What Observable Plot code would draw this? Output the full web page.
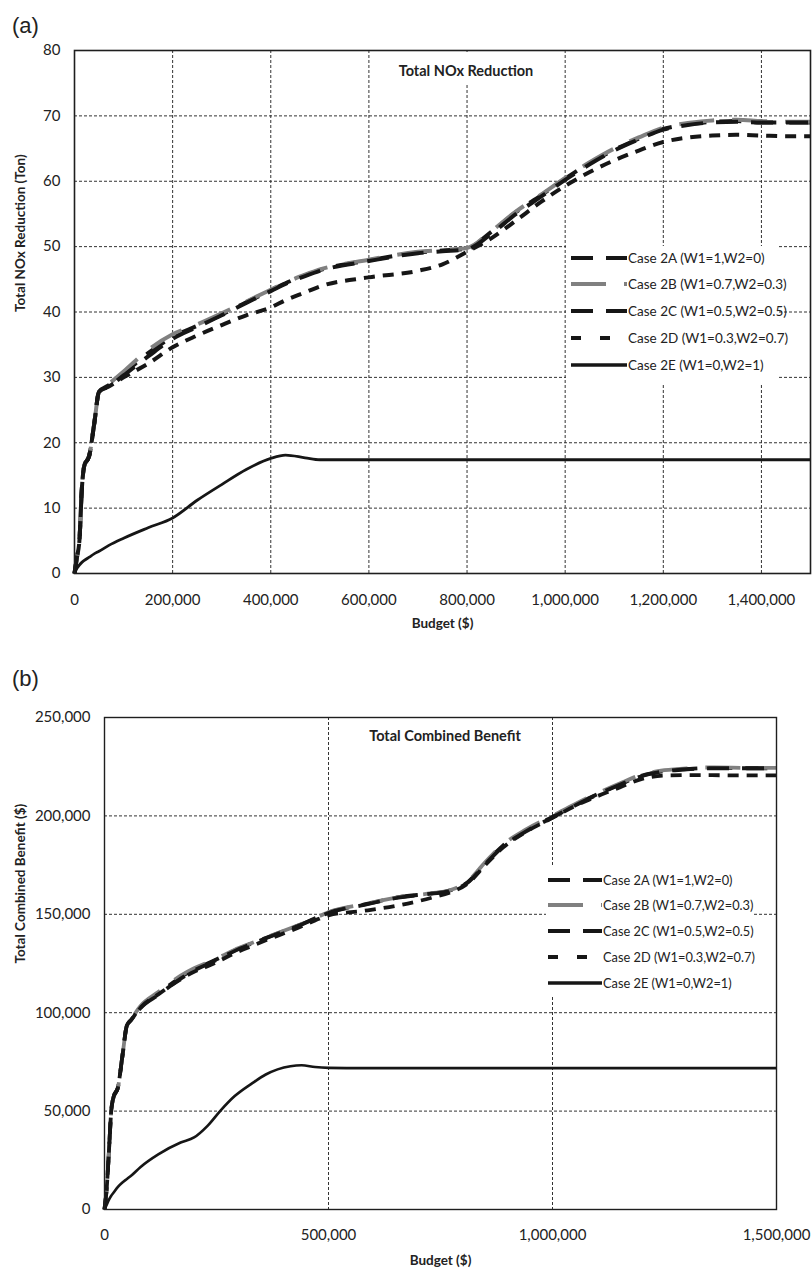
<!DOCTYPE html>
<html>
<head>
<meta charset="utf-8">
<script src="https://cdn.jsdelivr.net/npm/d3@7"></script>
<script src="https://cdn.jsdelivr.net/npm/@observablehq/plot@0.6"></script>
<style>
  html, body { margin: 0; padding: 0; overflow: hidden; background: #fff; }
  #root { position: relative; width: 812px; height: 1274px; font-family: Lato, "Open Sans", sans-serif; }
  #pa, #pb { position: absolute; left: 0; }
  #pa { top: 0; }
  #pb { top: 645px; }
  #overlay { position: absolute; left: 0; top: 0; pointer-events: none; }
</style>
</head>
<body>
<div id="root">
  <div id="pa"></div>
  <div id="pb"></div>
  <svg id="overlay" width="812" height="1274"></svg>
</div>
<script>
// ---------- Data ----------
const cases = [
  "Case 2A (W1=1,W2=0)",
  "Case 2B (W1=0.7,W2=0.3)",
  "Case 2C (W1=0.5,W2=0.5)",
  "Case 2D (W1=0.3,W2=0.7)",
  "Case 2E (W1=0,W2=1)"
];

// Panel (a): Total NOx Reduction (Ton)
const budgetA = [0, 5000, 10000, 15000, 20000, 30000, 40000, 50000, 70000, 100000,
  150000, 200000, 250000, 300000, 350000, 400000, 430000, 470000, 500000, 600000,
  700000, 750000, 800000, 850000, 900000, 950000, 1000000, 1050000, 1100000, 1150000,
  1200000, 1250000, 1300000, 1350000, 1400000, 1450000, 1500000];
const nox2A = [0, 2.5, 5, 13, 16.5, 18, 22.8, 27.8, 28.8, 30.6,
  33.7, 36.2, 37.9, 39.6, 41.5, 43.3, 44.4, 45.6, 46.4, 47.9,
  49.1, 49.4, 49.7, 52.3, 55.3, 57.8, 60.4, 62.8, 64.8, 66.5,
  68.0, 68.7, 69.1, 69.2, 69.0, 69.0, 69.0];
const nox2B = [0, 2.5, 5, 13, 16.5, 18, 22.8, 27.8, 29.0, 30.9,
  34.2, 36.6, 38.1, 39.8, 41.6, 43.4, 44.5, 45.7, 46.5, 48.0,
  49.2, 49.5, 49.8, 52.4, 55.4, 57.9, 60.5, 62.9, 65.0, 66.7,
  68.2, 68.9, 69.3, 69.4, 69.2, 69.1, 69.1];
const nox2C = [0, 2.5, 5, 13, 16.5, 18, 22.8, 27.8, 28.6, 30.3,
  33.2, 35.9, 37.7, 39.5, 41.4, 43.2, 44.3, 45.5, 46.3, 47.8,
  49.0, 49.3, 49.6, 52.0, 55.0, 57.6, 60.2, 62.6, 64.7, 66.4,
  67.9, 68.6, 69.0, 69.1, 69.0, 69.0, 69.0];
const nox2D = [0, 2.5, 5, 13, 16.5, 18, 22.8, 27.8, 28.6, 30.0,
  32.1, 34.6, 36.4, 38.0, 39.5, 40.7, 41.8, 43.0, 43.9, 45.3,
  46.3, 47.3, 49.2, 51.3, 54.0, 56.8, 59.3, 61.4, 63.2, 64.7,
  66.0, 66.7, 67.0, 67.1, 67.0, 66.9, 66.9];
const nox2E = [0, 0.8, 1.3, 1.7, 2.0, 2.5, 3.0, 3.4, 4.3, 5.4,
  7.0, 8.5, 11.2, 13.6, 15.9, 17.6, 18.1, 17.7, 17.4, 17.4,
  17.4, 17.4, 17.4, 17.4, 17.4, 17.4, 17.4, 17.4, 17.4, 17.4,
  17.4, 17.4, 17.4, 17.4, 17.4, 17.4, 17.4];

// Panel (b): Total Combined Benefit ($)
const budgetB = [0, 5000, 10000, 15000, 20000, 30000, 40000, 50000, 60000, 80000,
  120000, 170000, 200000, 230000, 260000, 290000, 330000, 360000, 415000, 440000,
  470000, 500000, 580000, 660000, 730000, 770000, 810000, 850000, 890000, 940000,
  1000000, 1050000, 1100000, 1150000, 1200000, 1250000, 1300000, 1350000, 1400000, 1450000,
  1500000];
const ben2A = [0, 11000, 30000, 50000, 57000, 62000, 78000, 93500, 96500, 102700,
  109800, 118000, 122000, 125000, 128200, 131600, 135300, 138000, 142800, 145000,
  148000, 150900, 155000, 158800, 160600, 162000, 166200, 176000, 185000, 192500,
  199500, 205500, 211000, 216000, 220500, 222800, 223800, 224300, 224300, 224200,
  224200];
const ben2B = [0, 11000, 30000, 50000, 57000, 62000, 78000, 93500, 96800, 103300,
  110500, 118800, 122600, 125500, 128600, 131900, 135500, 138200, 142900, 145100,
  148100, 151000, 155200, 158900, 160700, 162200, 166500, 176500, 185500, 193000,
  200000, 206000, 211500, 216500, 221000, 223200, 224200, 224600, 224500, 224400,
  224400];
const ben2C = [0, 11000, 30000, 50000, 57000, 62000, 78000, 93500, 96300, 102300,
  109000, 117300, 121500, 124600, 127900, 131300, 135100, 137800, 142600, 144800,
  147800, 150700, 154800, 158600, 160500, 161800, 166000, 175500, 184500, 192000,
  199200, 205200, 210800, 215800, 220300, 222600, 223700, 224200, 224200, 224200,
  224200];
const ben2D = [0, 11000, 30000, 50000, 57000, 62000, 78000, 93500, 96500, 102500,
  109300, 117000, 120800, 123600, 126800, 130200, 134000, 136800, 141600, 143900,
  146900, 149500, 151800, 154700, 158400, 161000, 165500, 175000, 184000, 191800,
  199000, 205000, 210000, 214500, 218800, 220500, 220700, 220700, 220600, 220600,
  220600];
const ben2E = [0, 2500, 5000, 7000, 8500, 11500, 13700, 15500, 17300, 21500,
  28000, 34000, 36600, 42500, 50500, 57500, 64200, 68600, 72800, 73300,
  72400, 72000, 71800, 71800, 71800, 71800, 71800, 71800, 71800, 71800,
  71800, 71800, 71800, 71800, 71800, 71800, 71800, 71800, 71800, 71800,
  71800];

const xTicksA = [0, 200000, 400000, 600000, 800000, 1000000, 1200000, 1400000];
const yTicksA = [0, 10, 20, 30, 40, 50, 60, 70, 80];
const xTicksB = [0, 500000, 1000000, 1500000];
const yTicksB = [0, 50000, 100000, 150000, 200000, 250000];

const titleA = "Total NOx Reduction";
const titleB = "Total Combined Benefit";
const xLabel = "Budget ($)";
const yLabelA = "Total NOx Reduction (Ton)";
const yLabelB = "Total Combined Benefit ($)";

// ---------- Styles ----------
const lineStyles = [
  {stroke: "#161616", width: 4, dash: "22,13", offset: 0, legendDash: "22,13"},
  {stroke: "#808080", width: 4, dash: "35,18", offset: 12, legendDash: "35,18"},
  {stroke: "#161616", width: 4, dash: "22,13", offset: 4, legendDash: "22,13"},
  {stroke: "#161616", width: 4, dash: "11,8", offset: 0, legendDash: "10,19"},
  {stroke: "#161616", width: 2.8, dash: null, offset: 0, legendDash: null}
];

function rows(budget, seriesList) {
  const out = [];
  seriesList.forEach((vals, k) => {
    budget.forEach((b, i) => out.push({budget: b, value: vals[i], case: cases[k]}));
  });
  return out;
}

const dataA = rows(budgetA, [nox2A, nox2B, nox2C, nox2D, nox2E]);
const dataB = rows(budgetB, [ben2A, ben2B, ben2C, ben2D, ben2E]);

function lineMarks(data, widthScale) {
  return cases.map((c, k) => {
    const s = lineStyles[k];
    return Plot.line(data.filter(d => d.case === c), {
      x: "budget", y: "value", curve: "monotone-x",
      stroke: s.stroke, strokeWidth: s.width * widthScale,
      strokeDasharray: s.dash || undefined,
      strokeDashoffset: s.offset,
      strokeLinecap: "butt", strokeLinejoin: "round"
    });
  });
}

const gridStyle = {stroke: "#333", strokeOpacity: 1, strokeWidth: 1, strokeDasharray: "3,2"};
const fmt = d3.format(",");

const plotA = Plot.plot({
  width: 812, height: 645,
  marginTop: 50, marginBottom: 72, marginLeft: 74, marginRight: 2,
  style: {fontFamily: "Lato, 'Open Sans', sans-serif", fontSize: "15px", color: "#222", background: "transparent"},
  x: {domain: [0, 1500000], ticks: xTicksA, tickFormat: fmt, tickSize: 0, tickPadding: 21, label: null},
  y: {domain: [0, 80], ticks: yTicksA, tickSize: 0, tickPadding: 14, label: null},
  marks: [
    Plot.gridX(xTicksA, gridStyle),
    Plot.gridY(yTicksA, gridStyle),
    ...lineMarks(dataA, 1),
    Plot.frame({stroke: "#1e1e1e", strokeWidth: 1.6}),
    Plot.text([xLabel], {text: d => d, frameAnchor: "bottom", dy: 54, fontWeight: "bold", fontSize: 13.5, fill: "#222"}),
    Plot.text([yLabelA], {text: d => d, frameAnchor: "left", dx: -54, rotate: -90, fontWeight: "bold", fontSize: 13.5, fill: "#222"})
  ]
});
document.getElementById("pa").appendChild(plotA);

const plotB = Plot.plot({
  width: 812, height: 629,
  marginTop: 72, marginBottom: 65, marginLeft: 104, marginRight: 36,
  style: {fontFamily: "Lato, 'Open Sans', sans-serif", fontSize: "15px", color: "#222", background: "transparent"},
  x: {domain: [0, 1500000], ticks: xTicksB, tickFormat: fmt, tickSize: 0, tickPadding: 20, label: null},
  y: {domain: [0, 250000], ticks: yTicksB, tickFormat: fmt, tickSize: 0, tickPadding: 14, label: null},
  marks: [
    Plot.gridX(xTicksB, gridStyle),
    Plot.gridY(yTicksB, gridStyle),
    ...lineMarks(dataB, 0.95),
    Plot.frame({stroke: "#1e1e1e", strokeWidth: 1.4}),
    Plot.text([xLabel], {text: d => d, frameAnchor: "bottom", dy: 55, fontWeight: "bold", fontSize: 13.5, fill: "#222"}),
    Plot.text([yLabelB], {text: d => d, frameAnchor: "left", dx: -84, rotate: -90, fontWeight: "bold", fontSize: 13.5, fill: "#222"})
  ]
});
document.getElementById("pb").appendChild(plotB);

// ---------- Overlay: panel letters, titles, legends ----------
const ov = d3.select("#overlay");
const FONT = "Lato, 'Open Sans', sans-serif";

ov.append("text").attr("x", 12).attr("y", 33).text("(a)")
  .attr("font-family", "'Liberation Sans', Arial, sans-serif").attr("font-size", 22).attr("fill", "#222");
ov.append("text").attr("x", 12).attr("y", 686).text("(b)")
  .attr("font-family", "'Liberation Sans', Arial, sans-serif").attr("font-size", 22).attr("fill", "#222");

function title(txt, cx, cy, box) {
  ov.append("rect").attr("x", box[0]).attr("y", box[1]).attr("width", box[2]).attr("height", box[3]).attr("fill", "#fff");
  ov.append("text").attr("x", cx).attr("y", cy).attr("text-anchor", "middle").attr("dominant-baseline", "central")
    .attr("font-family", FONT).attr("font-weight", "bold").attr("font-size", 14.5).attr("fill", "#222").text(txt);
}
title(titleA, 466, 70, [388, 52, 156, 32]);
title(titleB, 445, 735, [360, 720, 170, 28]);

function legend(box, x1, x2, tx, ys, fs) {
  ov.append("rect").attr("x", box[0]).attr("y", box[1]).attr("width", box[2]).attr("height", box[3]).attr("fill", "#fff");
  cases.forEach((c, k) => {
    const s = lineStyles[k];
    ov.append("line").attr("x1", x1).attr("x2", x2).attr("y1", ys[k]).attr("y2", ys[k])
      .attr("stroke", s.stroke).attr("stroke-width", k === 4 ? 3.3 : 4)
      .attr("stroke-dasharray", s.legendDash || null);
    ov.append("text").attr("x", tx).attr("y", ys[k]).attr("dominant-baseline", "central")
      .attr("font-family", FONT).attr("font-size", fs).attr("fill", "#222").text(c);
  });
}
legend([566, 246, 213, 137], 571, 627, 628, [258, 284, 311, 338, 365], 13.5);
legend([546, 867, 206, 128], 548, 602, 603, [880, 905, 931, 957, 983], 12.8);
</script>
</body>
</html>
